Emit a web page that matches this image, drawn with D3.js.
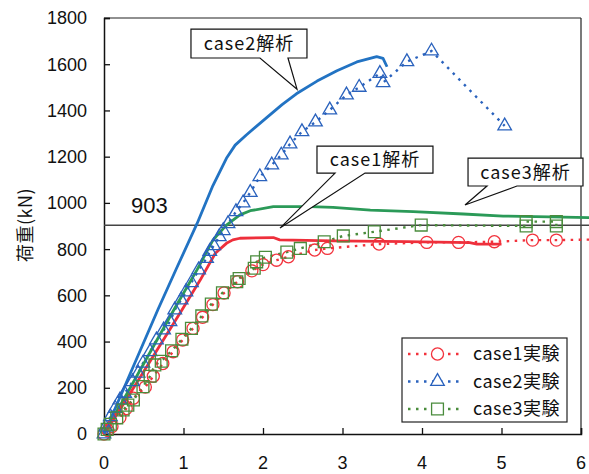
<!DOCTYPE html>
<html>
<head>
<meta charset="utf-8">
<script src="https://cdn.jsdelivr.net/npm/d3@7/dist/d3.min.js"></script>
<style>
  body { margin: 0; background: #fff; }
  svg { display: block; }
</style>
</head>
<body>
<svg id="chart"></svg>
<script>
/// data ////////////////////////////////
// 実験 (markers + dotted line)
const case1ExpX = [0, 0.05, 0.10, 0.20, 0.28, 0.37, 0.52, 0.62, 0.74, 0.87, 0.99, 1.12, 1.24, 1.37, 1.51, 1.68, 1.86, 2.00, 2.17, 2.32, 2.65, 2.81, 3.46, 4.06, 4.46, 4.91, 5.39, 5.69, 6.25]
const case1ExpY = [0, 15, 32, 71, 110, 155, 203, 250, 305, 356, 407, 457, 505, 560, 610, 659, 706, 733, 752, 767, 796, 803, 822, 829, 829, 832, 839, 839, 842]

const case2ExpX = [0, 0.02, 0.08, 0.14, 0.20, 0.26, 0.36, 0.43, 0.49, 0.58, 0.66, 0.75, 0.83, 0.89, 0.97, 1.03, 1.10, 1.19, 1.29, 1.33, 1.38, 1.45, 1.50, 1.56, 1.66, 1.75, 1.84, 1.96, 2.11, 2.23, 2.34, 2.49, 2.66, 2.84, 3.05, 3.21, 3.47, 3.51, 3.81, 4.12, 5.04]
const case2ExpY = [0, 30, 75, 111, 147, 176, 226, 263, 306, 356, 407, 450, 486, 537, 580, 615, 655, 710, 760, 790, 815, 854, 880, 910, 962, 1000, 1045, 1113, 1164, 1207, 1255, 1308, 1350, 1402, 1467, 1500, 1560, 1520, 1611, 1657, 1333]

const case3ExpX = [0, 0.04, 0.08, 0.16, 0.24, 0.30, 0.37, 0.49, 0.58, 0.64, 0.72, 0.85, 0.98, 1.10, 1.23, 1.35, 1.49, 1.67, 1.70, 1.89, 1.92, 2.03, 2.30, 2.47, 2.77, 3.01, 3.40, 3.99, 5.31, 5.31, 5.69, 5.69]
const case3ExpY = [0, 20, 42, 70, 104, 125, 147, 205, 250, 299, 315, 360, 410, 457, 511, 562, 611, 659, 673, 717, 745, 765, 787, 803, 832, 857, 875, 904, 900, 919, 919, 900]

// 解析 (solid line)
const case1AnaX = [0, 0.2, 0.5, 0.98, 1.21, 1.40, 1.54, 1.62, 1.71, 2.13, 2.21, 2.88, 3.81, 4.60, 4.69, 5.00]
const case1AnaY = [0, 105, 270, 537, 666, 782, 825, 840, 847, 850, 840, 836, 832, 828, 822, 822]

const case2AnaX = [0, 0.2, 0.68, 0.91, 1.17, 1.37, 1.54, 1.65, 1.79, 2.05, 2.24, 2.42, 2.68, 2.93, 3.18, 3.43, 3.51, 3.56]
const case2AnaY = [0, 158, 540, 715, 910, 1075, 1193, 1250, 1294, 1370, 1425, 1472, 1527, 1572, 1610, 1633, 1625, 1589]

const case3AnaX = [0, 0.3, 0.89, 1.17, 1.37, 1.54, 1.71, 1.84, 2.13, 2.59, 2.88, 3.35, 3.89, 4.52, 5.02, 5.78, 6.25]
const case3AnaY = [0, 182, 544, 710, 839, 904, 948, 966, 984, 984, 981, 969, 962, 952, 943, 938, 936]

const refLoad = 903
const xTicks = [0, 1, 2, 3, 4, 5, 6]
const yTicks = [0, 200, 400, 600, 800, 1000, 1200, 1400, 1600, 1800]
const legendLabels = ['case1実験', 'case2実験', 'case3実験']

/// layout ////////////////////////////////
const W = 589
const H = 474
const margin = { top: 18, left: 104, right: 8, bottom: 40 }
const width = W - margin.left - margin.right
const height = H - margin.top - margin.bottom

const svg = d3.select('#chart').attr('width', W).attr('height', H)
const g = svg.append('g').attr('transform', 'translate(' + margin.left + ',' + margin.top + ')')

const xScale = d3.scaleLinear().domain([0, 6]).range([0, width])
const yScale = d3.scaleLinear().domain([0, 1800]).range([height, 0])

const zip = (xs, ys) => xs.map((x, i) => ({ x: x, y: ys[i] }))
const line = d3.line().x(d => xScale(d.x)).y(d => yScale(d.y))

const red = '#f2323c'
const blue = '#2a62bd'
const green = '#4a8c3c'

const tickFont = '"Liberation Sans", Arial, sans-serif'
const jpFont = '"Noto Sans CJK JP", sans-serif'

/// frame + axes ////////////////////////////////
g.append('line')
  .attr('x1', 0).attr('x2', width).attr('y1', 0).attr('y2', 0)
  .attr('stroke', '#222').attr('stroke-width', 1.2)
g.append('line')
  .attr('x1', width).attr('x2', width).attr('y1', 0).attr('y2', height)
  .attr('stroke', '#222').attr('stroke-width', 1.2)

const yAxis = g.append('g').attr('class', 'axis y-axis')
  .call(d3.axisRight(yScale).tickValues(yTicks).tickSize(6).tickFormat(''))
yAxis.select('.domain').attr('stroke', '#111').attr('stroke-width', 1.5)
yAxis.selectAll('.tick line').attr('stroke', '#111').attr('stroke-width', 1.3)

const xAxis = g.append('g').attr('class', 'axis x-axis')
  .attr('transform', 'translate(0,' + height + ')')
  .call(d3.axisTop(xScale).tickValues(xTicks).tickSize(6).tickFormat(''))
xAxis.select('.domain').attr('stroke', '#111').attr('stroke-width', 1.5)
xAxis.selectAll('.tick line').attr('stroke', '#111').attr('stroke-width', 1.3)

g.selectAll('.ylab')
  .data(yTicks)
  .enter().append('text')
  .attr('class', 'ylab')
  .attr('x', -17)
  .attr('y', d => yScale(d))
  .attr('dy', '0.36em')
  .attr('text-anchor', 'end')
  .attr('font-family', tickFont)
  .attr('font-size', 18)
  .attr('fill', '#111')
  .text(d => d)

g.selectAll('.xlab')
  .data(xTicks)
  .enter().append('text')
  .attr('class', 'xlab')
  .attr('x', d => xScale(d))
  .attr('y', height + 29)
  .attr('dy', '0.36em')
  .attr('text-anchor', 'middle')
  .attr('font-family', tickFont)
  .attr('font-size', 18)
  .attr('fill', '#111')
  .text(d => d)

svg.append('text')
  .attr('transform', 'translate(24,' + (margin.top + 207) + ') rotate(-90)')
  .attr('text-anchor', 'middle')
  .attr('dominant-baseline', 'central')
  .attr('font-family', jpFont)
  .attr('font-size', 18)
  .attr('letter-spacing', 0.5)
  .attr('fill', '#111')
  .text('荷重(kN)')

/// 903 line ////////////////////////////////
g.append('line')
  .attr('x1', 0).attr('x2', W)
  .attr('y1', yScale(refLoad)).attr('y2', yScale(refLoad))
  .attr('stroke', '#444').attr('stroke-width', 1.5)

g.append('text')
  .attr('x', xScale(0.34))
  .attr('y', yScale(refLoad) - 12)
  .attr('font-family', tickFont)
  .attr('font-size', 22)
  .attr('fill', '#111')
  .text(refLoad)

/// experiments ////////////////////////////////
const expSeries = [
  { data: zip(case1ExpX, case1ExpY), color: red, symbol: d3.symbolCircle, size: 115 },
  { data: zip(case2ExpX, case2ExpY), color: blue, symbol: d3.symbolTriangle, size: 80 },
  { data: zip(case3ExpX, case3ExpY), color: green, symbol: d3.symbolSquare, size: 140 }
]

expSeries.forEach(s => {
  g.append('path')
    .datum(s.data)
    .attr('d', line)
    .attr('fill', 'none')
    .attr('stroke', s.color)
    .attr('stroke-width', 2.4)
    .attr('stroke-dasharray', '2.5,5.5')
})

/// analysis lines ////////////////////////////////
const anaSeries = [
  { data: zip(case3AnaX, case3AnaY), color: '#2b9a58' },
  { data: zip(case1AnaX, case1AnaY), color: '#ee2f3b' },
  { data: zip(case2AnaX, case2AnaY), color: '#2273c3' }
]
anaSeries.forEach(s => {
  g.append('path')
    .datum(s.data)
    .attr('d', line)
    .attr('fill', 'none')
    .attr('stroke', s.color)
    .attr('stroke-width', 2.8)
    .attr('stroke-linejoin', 'round')
})

expSeries.forEach(s => {
  g.selectAll(null)
    .data(s.data)
    .enter().append('path')
    .attr('transform', d => 'translate(' + xScale(d.x) + ',' + yScale(d.y) + ')')
    .attr('d', d3.symbol().type(s.symbol).size(s.size))
    .attr('fill', 'none')
    .attr('stroke', s.color)
    .attr('stroke-width', 1.3)
})

/// callouts ////////////////////////////////
const callouts = [
  { text: 'case2解析', box: [1.094, 1752, 2.553, 1627], base: [1.962, 2.314], tip: [2.428, 1492] },
  { text: 'case1解析', box: [2.679, 1246, 4.138, 1129], base: [2.906, 3.283], tip: [2.214, 891] },
  { text: 'case3解析', box: [4.579, 1194, 6.025, 1073], base: [4.818, 5.195], tip: [4.541, 991] }
]

callouts.forEach(c => {
  const x0 = xScale(c.box[0])
  const y0 = yScale(c.box[1])
  const x1 = xScale(c.box[2])
  const y1 = yScale(c.box[3])
  const b1 = xScale(c.base[0])
  const b2 = xScale(c.base[1])
  const p = d3.path()
  p.moveTo(x0, y0)
  p.lineTo(x1, y0)
  p.lineTo(x1, y1)
  p.lineTo(b2, y1)
  p.lineTo(xScale(c.tip[0]), yScale(c.tip[1]))
  p.lineTo(b1, y1)
  p.lineTo(x0, y1)
  p.closePath()
  g.append('path')
    .attr('d', p.toString())
    .attr('fill', '#fff')
    .attr('stroke', '#111')
    .attr('stroke-width', 1.2)
  g.append('text')
    .attr('x', (x0 + x1) / 2)
    .attr('y', (y0 + y1) / 2)
    .attr('dy', '0.36em')
    .attr('text-anchor', 'middle')
    .attr('font-family', jpFont)
    .attr('font-size', 18)
    .attr('letter-spacing', 1)
    .attr('fill', '#111')
    .text(c.text)
})

/// legend ////////////////////////////////
const legend = svg.append('g').attr('transform', 'translate(402,338)')
legend.append('rect')
  .attr('width', 165).attr('height', 84)
  .attr('fill', '#fff')
  .attr('stroke', '#222').attr('stroke-width', 1.2)

expSeries.forEach((s, i) => {
  const row = legend.append('g').attr('transform', 'translate(0,' + (16 + i * 27.5) + ')')
  row.append('line')
    .attr('x1', 6).attr('x2', 60)
    .attr('stroke', s.color).attr('stroke-width', 2.4)
    .attr('stroke-dasharray', '2.5,5.5')
  row.append('path')
    .attr('transform', 'translate(35.5,0)')
    .attr('d', d3.symbol().type(s.symbol).size(s.size))
    .attr('fill', '#fff')
    .attr('stroke', s.color)
    .attr('stroke-width', 1.3)
  row.append('text')
    .attr('x', 71)
    .attr('dy', '0.36em')
    .attr('font-family', jpFont)
    .attr('font-size', 18)
    .attr('letter-spacing', 0.5)
    .attr('fill', '#111')
    .text(legendLabels[i])
})
</script>
</body>
</html>
